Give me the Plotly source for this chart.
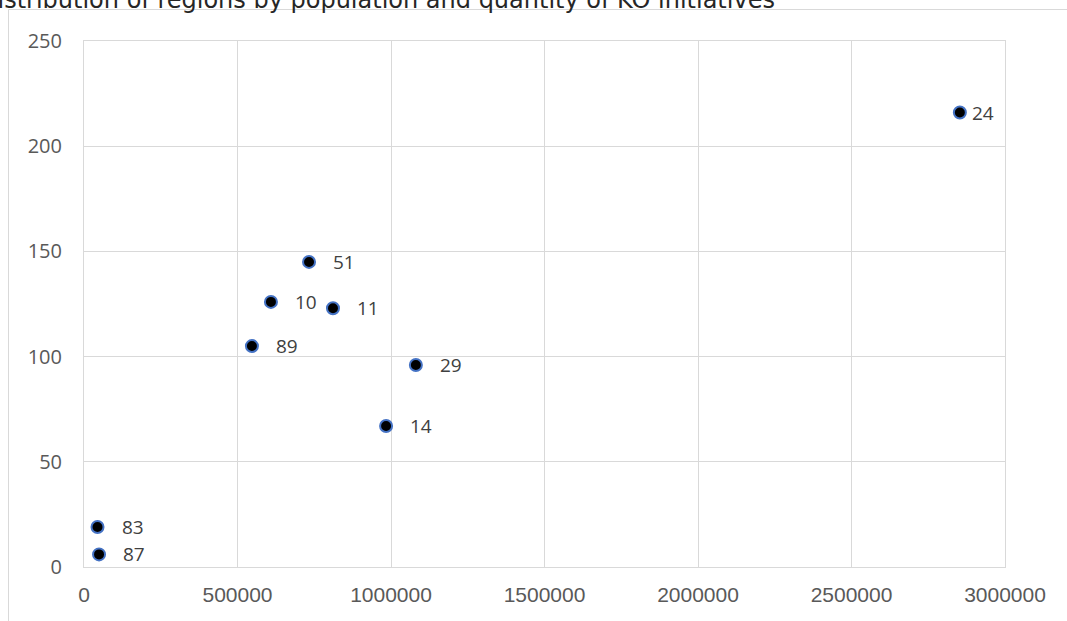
import plotly.graph_objects as go

# Regions: code, population, number of initiatives
region_codes = ["24", "51", "10", "11", "89", "29", "14", "83", "87"]
population = [2853000, 733000, 609000, 811000, 547000, 1081000, 984000, 44000, 49000]
initiatives = [216, 145, 126, 123, 105, 96, 67, 19, 6]

x_ticks = [0, 500000, 1000000, 1500000, 2000000, 2500000, 3000000]
y_ticks = [0, 50, 100, 150, 200, 250]

title_text = "Distribution of regions by population and quantity of KO initiatives"

# label offset to the right of each marker (px)
label_shift = {"24": 10}

W, H = 1067, 621
L, R, T, B = 84, 62, 41, 54
pw, ph = W - L - R, H - T - B


def px_to_paper_x(px):
    return (px - L) / pw


def px_to_paper_y(py):
    return (H - B - py) / ph


fig = go.Figure()
fig.add_trace(go.Scatter(
    x=population,
    y=initiatives,
    mode="markers",
    marker=dict(size=12, color="black", line=dict(color="#4472C4", width=2)),
    hoverinfo="x+y+text",
    text=region_codes,
    showlegend=False,
))

annotations = []
for code, xv, yv in zip(region_codes, population, initiatives):
    annotations.append(dict(
        x=xv, y=yv, xref="x", yref="y",
        text=code, showarrow=False,
        xanchor="left", yanchor="middle",
        xshift=label_shift.get(code, 22), yshift=0,
        font=dict(family="Open Sans, DejaVu Sans, sans-serif", size=19, color="#404040"),
    ))

# chart title (runs past the top edge of the page)
annotations.append(dict(
    x=px_to_paper_x(777), y=px_to_paper_y(16), xref="paper", yref="paper",
    text=title_text, showarrow=False, xanchor="right", yanchor="bottom",
    font=dict(family="DejaVu Sans, sans-serif", size=24, color="#262626"),
))

shapes = [
    # outer chart frame
    dict(type="rect", xref="paper", yref="paper",
         x0=px_to_paper_x(8.5), x1=px_to_paper_x(W + 20),
         y0=px_to_paper_y(H + 20), y1=px_to_paper_y(9.5),
         line=dict(color="#d9d9d9", width=1), fillcolor="rgba(0,0,0,0)", layer="below"),
]

fig.update_layout(
    width=W, height=H,
    margin=dict(l=L, r=R, t=T, b=B, pad=0),
    paper_bgcolor="white",
    plot_bgcolor="white",
    annotations=annotations,
    shapes=shapes,
    font=dict(family="Open Sans, DejaVu Sans, sans-serif", size=19, color="#595959"),
)

fig.update_xaxes(
    range=[0, 3000000],
    tickvals=x_ticks,
    ticktext=[str(v) for v in x_ticks],
    showgrid=True, gridcolor="#d9d9d9", gridwidth=1,
    showline=True, linecolor="#d9d9d9", linewidth=1, mirror=True,
    zeroline=False, ticks="",
    tickfont=dict(family="Liberation Sans, Arial, sans-serif", size=21, color="#595959"),
    ticklabelstandoff=9,
)
fig.update_yaxes(
    range=[0, 250],
    tickvals=y_ticks,
    ticktext=[str(v) for v in y_ticks],
    showgrid=True, gridcolor="#d9d9d9", gridwidth=1,
    showline=True, linecolor="#d9d9d9", linewidth=1, mirror=True,
    zeroline=False, ticks="",
    tickfont=dict(family="Open Sans, DejaVu Sans, sans-serif", size=20, color="#595959"),
    ticklabelstandoff=17,
)

fig.write_html("out.html")
